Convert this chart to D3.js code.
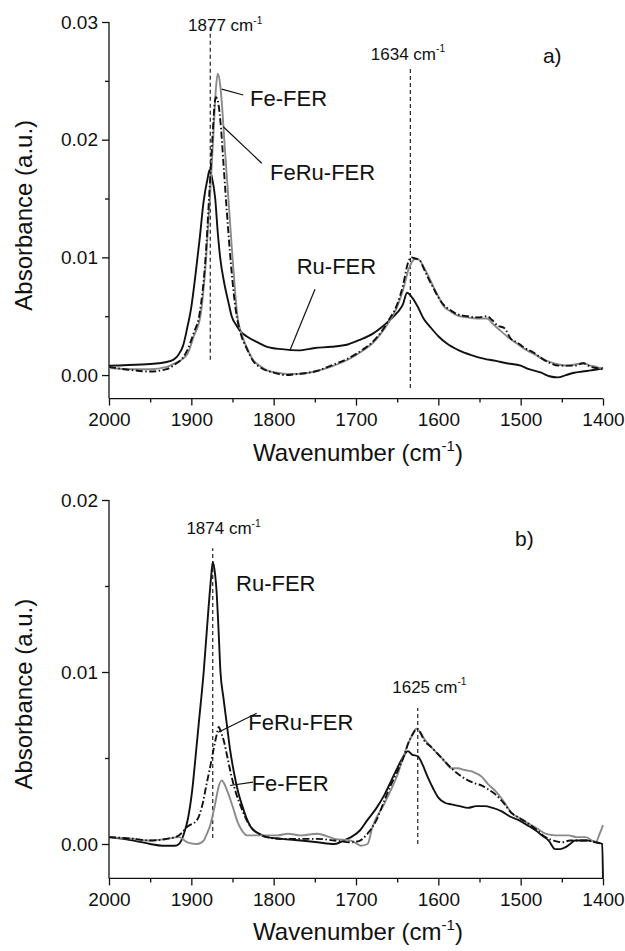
<!DOCTYPE html>
<html>
<head>
<meta charset="utf-8">
<script src="https://cdn.jsdelivr.net/npm/d3@7"></script>
<style>
  html, body { margin: 0; padding: 0; background: #fff; }
  svg { display: block; font-family: "Liberation Sans", Arial, sans-serif; }
</style>
</head>
<body>
<svg id="chart" width="625" height="951"></svg>
<script>
// ---------------- DATA ----------------
const xTicksMajor = [2000, 1900, 1800, 1700, 1600, 1500, 1400];
const xTicksMinor = [1950, 1850, 1750, 1650, 1550, 1450];
const yTicksTopMajor = [0.00, 0.01, 0.02, 0.03];
const yTicksTopMinor = [0.005, 0.015, 0.025];
const yTicksBotMajor = [0.00, 0.01, 0.02];
const yTicksBotMinor = [0.005, 0.015];

// panel a) spectra: [wavenumber, absorbance]
const aRuFER = [[2000,0.0008],[1960,0.0009],[1940,0.0010],[1925,0.0012],[1915,0.0018],[1910,0.0025],[1905,0.0040],[1900,0.0058],[1895,0.0085],[1890,0.0115],[1885,0.0148],[1880,0.0168],[1878,0.0174],[1875,0.0168],[1871,0.0150],[1868,0.0122],[1865,0.0100],[1860,0.0078],[1855,0.0062],[1851,0.0050],[1845,0.0042],[1840,0.0037],[1833,0.0033],[1820,0.0028],[1808,0.0024],[1790,0.0022],[1770,0.0021],[1750,0.0023],[1730,0.0024],[1710,0.0026],[1695,0.0030],[1680,0.0035],[1670,0.0040],[1660,0.0046],[1650,0.0053],[1643,0.0060],[1638,0.0070],[1632,0.0066],[1625,0.0058],[1618,0.0048],[1610,0.0041],[1600,0.0033],[1590,0.0027],[1575,0.0021],[1560,0.0017],[1545,0.0014],[1530,0.0012],[1517,0.0010],[1500,0.0008],[1490,0.0005],[1475,0.0002],[1465,-0.0001],[1455,-0.0002],[1445,0.0000],[1435,0.0002],[1425,0.0003],[1415,0.0004],[1405,0.0005],[1400,0.0006]];
const aFeFER = [[2000,0.0006],[1970,0.0005],[1950,0.0005],[1930,0.0007],[1920,0.0010],[1910,0.0014],[1904,0.0019],[1897,0.0033],[1889,0.0050],[1882,0.0100],[1877.5,0.0150],[1873.5,0.0200],[1870.5,0.0240],[1868,0.0256],[1865,0.0247],[1862,0.0222],[1860,0.0200],[1855,0.0150],[1850,0.0100],[1844,0.0050],[1838,0.0033],[1833,0.0024],[1825,0.0013],[1815,0.0007],[1808,0.0004],[1795,0.0002],[1784,0.0001],[1770,0.0001],[1750,0.0003],[1727,0.0008],[1710,0.0013],[1691,0.0021],[1680,0.0027],[1670,0.0035],[1660,0.0045],[1650,0.0058],[1643,0.0072],[1636,0.0090],[1630,0.0098],[1627,0.0099],[1622,0.0097],[1618,0.0092],[1612,0.0084],[1606,0.0075],[1600,0.0067],[1594,0.0059],[1585,0.0054],[1578,0.0051],[1565,0.0049],[1552,0.0048],[1541,0.0048],[1533,0.0043],[1525,0.0038],[1515,0.0032],[1505,0.0027],[1495,0.0022],[1484,0.0018],[1474,0.0014],[1464,0.0011],[1454,0.0009],[1444,0.0008],[1434,0.0009],[1424,0.0010],[1415,0.0008],[1408,0.0007],[1400,0.0005]];
const aFeRuFER = [[2000,0.0007],[1970,0.0004],[1950,0.0003],[1930,0.0005],[1920,0.0009],[1910,0.0015],[1905,0.0021],[1897,0.0036],[1890,0.0052],[1882.5,0.0102],[1878.5,0.0150],[1874.5,0.0200],[1871.5,0.0232],[1870,0.0236],[1867,0.0230],[1864,0.0210],[1861,0.0180],[1857,0.0140],[1852,0.0095],[1846,0.0055],[1840,0.0035],[1833,0.0023],[1825,0.0012],[1815,0.0006],[1800,0.0002],[1785,0.0000],[1770,0.0001],[1750,0.0003],[1727,0.0009],[1710,0.0014],[1691,0.0022],[1680,0.0028],[1670,0.0036],[1660,0.0047],[1650,0.0060],[1643,0.0076],[1637,0.0095],[1633,0.0100],[1628,0.0099],[1622,0.0097],[1618,0.0091],[1612,0.0082],[1606,0.0074],[1600,0.0066],[1594,0.0060],[1585,0.0055],[1578,0.0052],[1565,0.0050],[1552,0.0049],[1541,0.0050],[1535,0.0047],[1528,0.0042],[1520,0.0040],[1512,0.0031],[1505,0.0028],[1495,0.0023],[1484,0.0019],[1474,0.0014],[1464,0.0010],[1454,0.0008],[1444,0.0008],[1434,0.0008],[1424,0.0010],[1415,0.0007],[1408,0.0006],[1400,0.0005]];

// panel b) spectra
const bRuFER = [[2000,0.0004],[1970,0.0002],[1950,0.0000],[1935,-0.0001],[1920,-0.0001],[1915,0.0000],[1909,0.0006],[1904,0.0015],[1899,0.0031],[1895,0.0050],[1891,0.0070],[1885,0.0100],[1879,0.0138],[1876,0.0155],[1874,0.0164],[1872,0.0160],[1869.5,0.0148],[1867,0.0125],[1864.6,0.0100],[1861,0.0085],[1857,0.0070],[1853,0.0055],[1848,0.0041],[1843,0.0030],[1838,0.0022],[1833,0.0015],[1828,0.0010],[1818,0.0006],[1808,0.0004],[1790,0.0003],[1767,0.0002],[1747,0.0001],[1726,0.0000],[1715,0.0002],[1706,0.0004],[1695,0.0008],[1686,0.0014],[1675,0.0021],[1665,0.0029],[1657,0.0037],[1649,0.0045],[1641,0.0052],[1637,0.0054],[1632,0.0052],[1625,0.0051],[1619,0.0046],[1613,0.0039],[1606,0.0032],[1600,0.0027],[1592,0.0024],[1584,0.0023],[1574,0.0022],[1564,0.0021],[1554,0.0022],[1544,0.0022],[1534,0.0021],[1523,0.0019],[1513,0.0016],[1503,0.0014],[1492,0.0011],[1482,0.0008],[1474,0.0005],[1466,0.0002],[1458,-0.0003],[1452,-0.0003],[1446,-0.0002],[1440,0.0000],[1434,0.0002],[1425,0.0002],[1417,0.0002],[1408,0.0001],[1401,0.0000],[1400,-0.0020]];
const bFeRuFER = [[2000,0.0004],[1970,0.0003],[1950,0.0002],[1930,0.0003],[1915,0.0005],[1905,0.0010],[1893,0.0014],[1887,0.0022],[1881,0.0036],[1877,0.0045],[1873,0.0055],[1869,0.0064],[1866.7,0.0068],[1864,0.0065],[1860.6,0.0060],[1856,0.0050],[1852,0.0041],[1846,0.0030],[1840,0.0022],[1834,0.0015],[1828,0.0010],[1818,0.0006],[1808,0.0004],[1790,0.0003],[1767,0.0003],[1747,0.0003],[1726,0.0002],[1706,0.0001],[1695,0.0002],[1686,0.0006],[1675,0.0014],[1665,0.0026],[1657,0.0035],[1649,0.0043],[1641,0.0052],[1637,0.0058],[1631,0.0064],[1626,0.0067],[1621,0.0064],[1617,0.0060],[1610,0.0057],[1604,0.0054],[1594,0.0049],[1584,0.0044],[1574,0.0040],[1564,0.0037],[1554,0.0035],[1547,0.0034],[1540,0.0032],[1531,0.0029],[1521,0.0024],[1511,0.0018],[1501,0.0015],[1491,0.0012],[1480,0.0008],[1470,0.0004],[1460,0.0002],[1450,0.0001],[1440,0.0002],[1430,0.0002],[1420,0.0002],[1409,0.0001],[1400,0.0000]];
const bFeFER = [[2000,0.0004],[1970,0.0003],[1950,0.0002],[1930,0.0003],[1915,0.0004],[1905,0.0001],[1893,0.0000],[1885,0.0002],[1881,0.0006],[1877,0.0011],[1873,0.0019],[1870,0.0026],[1867,0.0033],[1863,0.0037],[1860,0.0035],[1856.5,0.0031],[1852,0.0025],[1848,0.0019],[1844,0.0013],[1840,0.0009],[1832,0.0005],[1820,0.0005],[1808,0.0005],[1795,0.0005],[1783,0.0006],[1767,0.0005],[1747,0.0006],[1726,0.0003],[1706,0.0002],[1694,-0.0001],[1686,0.0000],[1680,0.0010],[1665,0.0024],[1657,0.0032],[1649,0.0041],[1643,0.0050],[1637,0.0058],[1631,0.0064],[1627,0.0067],[1622,0.0065],[1617,0.0061],[1610,0.0057],[1604,0.0054],[1594,0.0049],[1584,0.0044],[1576,0.0044],[1568,0.0043],[1558,0.0042],[1547,0.0039],[1540,0.0035],[1531,0.0031],[1521,0.0025],[1511,0.0018],[1501,0.0015],[1491,0.0012],[1480,0.0009],[1470,0.0006],[1458,0.0005],[1442,0.0005],[1432,0.0004],[1421,0.0004],[1409,0.0001],[1404,0.0006],[1400,0.0011]];

// reference (dashed) lines: [wavenumber, from, to]
const aRefLines = [[1877, 0.0013, 0.0296], [1634, -0.0011, 0.0260]];
const bRefLines = [[1874, 0.00035, 0.0172], [1625, 0.0000, 0.0079]];

// text labels: [text, sup, wavenumber, absorbance, size]
const aLabels = [["1877 cm", "-1", 1904, 0.0292, 17], ["1634 cm", "-1", 1682, 0.0268, 17], ["a)", "", 1473, 0.0265, 21],
                 ["Fe-FER", "", 1828.7, 0.0229, 22], ["FeRu-FER", "", 1804.4, 0.0166, 22], ["Ru-FER", "", 1772, 0.0086, 22]];
const bLabels = [["1874 cm", "-1", 1906, 0.0180, 17], ["b)", "", 1506.9, 0.0173, 21], ["Ru-FER", "", 1845.7, 0.0147, 22],
                 ["1625 cm", "-1", 1656, 0.0088, 17], ["FeRu-FER", "", 1830.8, 0.0066, 22], ["Fe-FER", "", 1826.7, 0.0031, 22]];
// leader lines: [wn1, abs1, wn2, abs2]
const aLeaders = [[1836.9, 0.0238, 1863.1, 0.0243], [1814.5, 0.0180, 1861.2, 0.0211], [1749.8, 0.0073, 1780.2, 0.0021]];
const bLeaders = [[1820.6, 0.0076, 1867.2, 0.0065], [1825.1, 0.0036, 1853.0, 0.0034]];

// ---------------- DRAW ----------------
const svg = d3.select("#chart");
const x = d3.scaleLinear().domain([2000, 1400]).range([109, 603]);

function panel(cfg) {
  const y = d3.scaleLinear().domain(cfg.yDomain).range(cfg.yRange);
  const g = svg.append("g");
  const y0 = cfg.yRange[0];

  // axes
  const xAx = g.append("g").attr("transform", `translate(0,${y0})`)
    .call(d3.axisBottom(x).tickValues(xTicksMajor).tickFormat(d3.format("d")).tickSize(7).tickPadding(7));
  g.append("g").attr("transform", `translate(0,${y0})`)
    .call(d3.axisBottom(x).tickValues(xTicksMinor).tickFormat("").tickSize(4).tickSizeOuter(0))
    .select(".domain").remove();
  const yAx = g.append("g").attr("transform", `translate(109,0)`)
    .call(d3.axisLeft(y).tickValues(cfg.yMajor).tickFormat(d3.format(".2f")).tickSize(7).tickPadding(4));
  g.append("g").attr("transform", `translate(109,0)`)
    .call(d3.axisLeft(y).tickValues(cfg.yMinor).tickFormat("").tickSize(4).tickSizeOuter(0))
    .select(".domain").remove();
  xAx.select(".domain").attr("d", `M${x.range()[0]},0H${x.range()[1]}`);
  yAx.select(".domain").attr("d", `M0,${cfg.yRange[0]}V${cfg.yRange[1]}`);
  g.selectAll(".domain, .tick line").attr("stroke", "#111").attr("stroke-width", 1.3);
  g.selectAll(".tick text").attr("font-size", 19).attr("fill", "#111")
    .attr("font-family", "'Liberation Sans', Arial, sans-serif");

  // axis titles
  g.append("text").attr("transform", `translate(32,${(cfg.yRange[0] + cfg.yRange[1]) / 2 + 5}) rotate(-90)`)
    .attr("text-anchor", "middle").attr("font-size", 24).attr("fill", "#111").text("Absorbance (a.u.)");
  const xt = g.append("text").attr("x", (x.range()[0] + x.range()[1]) / 2 + 2).attr("y", y0 + 62)
    .attr("text-anchor", "middle").attr("font-size", 24).attr("fill", "#111");
  xt.append("tspan").text("Wavenumber (cm");
  xt.append("tspan").attr("font-size", 15).attr("dy", -10).text("-1");
  xt.append("tspan").attr("dy", 10).text(")");

  // reference dashed lines
  g.selectAll(".ref").data(cfg.refs).enter().append("line")
    .attr("x1", d => x(d[0])).attr("x2", d => x(d[0]))
    .attr("y1", d => y(d[1])).attr("y2", d => y(d[2]))
    .attr("stroke", "#222").attr("stroke-width", 1.2).attr("stroke-dasharray", "4,3");

  // spectra
  const line = d3.line().x(d => x(d[0])).y(d => y(d[1])).curve(d3.curveMonotoneX);
  cfg.series.forEach(s => {
    g.append("path").datum(s.data).attr("d", line).attr("fill", "none")
      .attr("stroke", s.color).attr("stroke-width", 1.9)
      .attr("stroke-dasharray", s.dash || null).attr("stroke-linejoin", "round");
  });

  // leader lines
  g.selectAll(".lead").data(cfg.leaders).enter().append("line")
    .attr("x1", d => x(d[0])).attr("y1", d => y(d[1]))
    .attr("x2", d => x(d[2])).attr("y2", d => y(d[3]))
    .attr("stroke", "#111").attr("stroke-width", 1.2);

  // labels
  cfg.labels.forEach(l => {
    const t = g.append("text").attr("x", x(l[2])).attr("y", y(l[3]))
      .attr("font-size", l[4]).attr("fill", "#111");
    t.append("tspan").text(l[0]);
    if (l[1]) t.append("tspan").attr("font-size", l[4] * 0.6).attr("dy", -l[4] * 0.45).text(l[1]);
  });
}

panel({
  yDomain: [-0.002, 0.03], yRange: [398.6, 22],
  yMajor: yTicksTopMajor, yMinor: yTicksTopMinor,
  refs: aRefLines, leaders: aLeaders, labels: aLabels,
  series: [
    { data: aRuFER, color: "#111" },
    { data: aFeFER, color: "#8a8a8a" },
    { data: aFeRuFER, color: "#111", dash: "7,2.5,1.5,2.5" }
  ]
});
panel({
  yDomain: [-0.002, 0.02], yRange: [878.4, 500],
  yMajor: yTicksBotMajor, yMinor: yTicksBotMinor,
  refs: bRefLines, leaders: bLeaders, labels: bLabels,
  series: [
    { data: bRuFER, color: "#111" },
    { data: bFeFER, color: "#8a8a8a" },
    { data: bFeRuFER, color: "#111", dash: "7,2.5,1.5,2.5" }
  ]
});
</script>
</body>
</html>
